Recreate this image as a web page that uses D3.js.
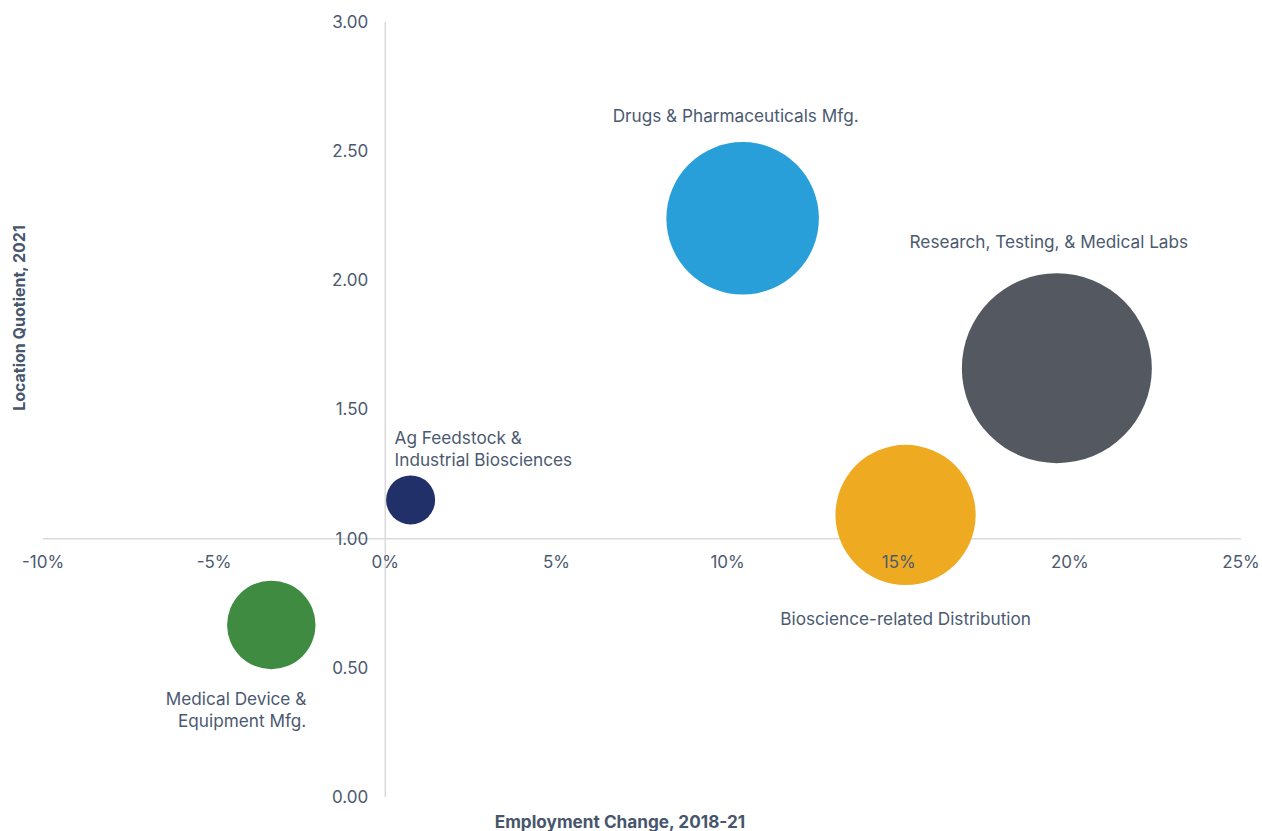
<!DOCTYPE html>
<html>
<head>
<meta charset="utf-8">
<script src="https://cdn.jsdelivr.net/npm/d3@7"></script>
<style>
  html, body { margin: 0; padding: 0; background: #ffffff; }
  svg { display: block; }
  text { font-family: Inter, "Liberation Sans", Arial, sans-serif; }
</style>
</head>
<body>
<svg id="chart" width="1262" height="831"></svg>
<script>
// ---- data ----
const industries = [
  "Drugs & Pharmaceuticals Mfg.",
  "Research, Testing, & Medical Labs",
  "Bioscience-related Distribution",
  "Ag Feedstock & Industrial Biosciences",
  "Medical Device & Equipment Mfg."
];
const employmentChange = [10.44, 19.62, 15.20, 0.74, -3.33];   // %, 2018-21
const locationQuotient = [2.24, 1.66, 1.092, 1.15, 0.666];       // 2021
const employment = [5800, 9000, 4900, 600, 1950];                // bubble size (estimated)
const xTicks = [-10, -5, 0, 5, 10, 15, 20, 25];
const yTicks = [0, 0.5, 1, 1.5, 2, 2.5, 3];
const colors = ["#289fd9", "#545861", "#eeab22", "#22306a", "#3e8b41"];

// ---- layout (label placement, not data) ----
const labelLayout = [
  { lines: ["Drugs & Pharmaceuticals Mfg."], dx: -7, dy: -96, anchor: "middle" },
  { lines: ["Research, Testing, & Medical Labs"], dx: -8, dy: -120, anchor: "middle" },
  { lines: ["Bioscience-related Distribution"], dx: 0, dy: 110, anchor: "middle" },
  { lines: ["Ag Feedstock &", "Industrial Biosciences"], dx: -16, dy: -56, anchor: "start" },
  { lines: ["Medical Device &", "Equipment Mfg."], dx: 35, dy: 80, anchor: "end" }
];

const svg = d3.select("#chart");
const textColor = "#4b5a70";

const x = d3.scaleLinear().domain([-10, 25]).range([43, 1241]);
const y = d3.scaleLinear().domain([0, 3]).range([797, 22]);
const r = d3.scaleSqrt().domain([0, d3.max(employment)]).range([0, 95]);

// axis lines
svg.append("line")
  .attr("x1", x(0)).attr("x2", x(0))
  .attr("y1", y(3)).attr("y2", y(0))
  .attr("stroke", "#d9d9d9").attr("stroke-width", 1.5);
svg.append("line")
  .attr("x1", x(-10)).attr("x2", x(25))
  .attr("y1", y(1)).attr("y2", y(1))
  .attr("stroke", "#d9d9d9").attr("stroke-width", 1.5);

// bubbles
const data = industries.map((name, i) => ({
  name, xv: employmentChange[i], yv: locationQuotient[i], size: employment[i], color: colors[i], lab: labelLayout[i]
}));

svg.append("g").selectAll("circle")
  .data(data)
  .join("circle")
  .attr("cx", d => x(d.xv))
  .attr("cy", d => y(d.yv))
  .attr("r", d => r(d.size))
  .attr("fill", d => d.color);

// y tick labels
svg.append("g").selectAll("text")
  .data(yTicks)
  .join("text")
  .attr("x", x(0) - 17)
  .attr("y", d => y(d))
  .attr("dy", "0.35em")
  .attr("text-anchor", "end")
  .attr("font-size", 17)
  .attr("fill", textColor)
  .text(d => d3.format(".2f")(d));

// x tick labels
svg.append("g").selectAll("text")
  .data(xTicks)
  .join("text")
  .attr("x", d => x(d))
  .attr("y", y(1) + 29)
  .attr("text-anchor", "middle")
  .attr("font-size", 17)
  .attr("fill", textColor)
  .text(d => d + "%");

// bubble labels
const lg = svg.append("g").selectAll("text")
  .data(data)
  .join("text")
  .attr("text-anchor", d => d.lab.anchor)
  .attr("font-size", 17.2)
  .attr("fill", textColor);
lg.each(function(d) {
  const t = d3.select(this);
  d.lab.lines.forEach((line, j) => {
    t.append("tspan")
      .attr("x", x(d.xv) + d.lab.dx)
      .attr("y", y(d.yv) + d.lab.dy + j * 22)
      .text(line);
  });
});

// axis titles
svg.append("text")
  .attr("x", 620)
  .attr("y", 828)
  .attr("text-anchor", "middle")
  .attr("font-size", 17.2)
  .attr("font-weight", 700)
  .attr("fill", "#46566c")
  .text("Employment Change, 2018-21");

svg.append("text")
  .attr("transform", "translate(25,318) rotate(-90)")
  .attr("text-anchor", "middle")
  .attr("font-size", 16)
  .attr("font-weight", 700)
  .attr("fill", "#46566c")
  .text("Location Quotient, 2021");
</script>
</body>
</html>
